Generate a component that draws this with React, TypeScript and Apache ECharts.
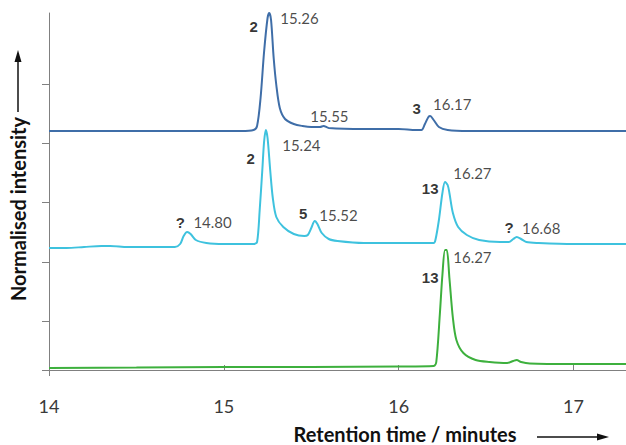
import React, { useEffect, useRef } from "react";
import * as echarts from "echarts";

// Retention time axis (minutes)
const xTicks = [14, 15, 16, 17];
// Normalised intensity axis tick positions (arbitrary units)
const yTickValues = [0, 49, 108, 168, 227, 286];

// Trace 1 (dark blue) — [retention time, intensity]
const topTrace: [number, number][] = [
  [14.0, 239], [14.3, 239], [14.6, 239], [14.9, 239], [15.1, 239], [15.17, 240],
  [15.19, 244], [15.21, 272], [15.23, 318], [15.25, 352], [15.26, 357], [15.27, 350],
  [15.285, 312], [15.3, 285], [15.32, 262], [15.35, 251], [15.4, 246], [15.45, 244],
  [15.5, 243], [15.55, 243], [15.57, 244], [15.6, 242], [15.8, 241], [16.0, 241],
  [16.1, 240], [16.13, 240], [16.15, 246], [16.17, 253], [16.18, 254], [16.2, 250],
  [16.23, 243], [16.28, 240], [16.4, 239], [16.7, 239], [17.0, 239], [17.3, 239],
];

// Trace 2 (cyan)
const middleTrace: [number, number][] = [
  [14.0, 122], [14.1, 122], [14.2, 123], [14.3, 124], [14.35, 124], [14.45, 123],
  [14.6, 123], [14.72, 123], [14.75, 126], [14.77, 134], [14.79, 138], [14.81, 136],
  [14.84, 130], [14.9, 127], [15.0, 126], [15.17, 126], [15.19, 128], [15.205, 160],
  [15.22, 200], [15.23, 228], [15.24, 240], [15.25, 232], [15.265, 200], [15.28, 172],
  [15.3, 153], [15.34, 143], [15.4, 136], [15.46, 134], [15.48, 135], [15.5, 142],
  [15.52, 149], [15.535, 146], [15.56, 137], [15.6, 131], [15.65, 129], [15.8, 127],
  [16.0, 127], [16.2, 127], [16.21, 130], [16.23, 150], [16.25, 177], [16.265, 188],
  [16.28, 185], [16.29, 177], [16.31, 157], [16.34, 143], [16.39, 135], [16.46, 130],
  [16.58, 128], [16.63, 128], [16.655, 131], [16.675, 133], [16.7, 131], [16.73, 128],
  [16.8, 127], [17.0, 126], [17.3, 126],
];

// Trace 3 (green)
const bottomTrace: [number, number][] = [
  [14.0, 2], [14.5, 2.5], [15.0, 3], [15.5, 3], [16.0, 3.5], [16.2, 4],
  [16.215, 8], [16.235, 55], [16.25, 95], [16.265, 120], [16.275, 120], [16.29, 92],
  [16.31, 52], [16.33, 30], [16.37, 17], [16.44, 10], [16.52, 8], [16.62, 7],
  [16.655, 9], [16.675, 10], [16.7, 8], [16.75, 6.5], [17.0, 6], [17.3, 6],
];

// Peak retention-time annotations and their anchor (data coords, left edge)
const peakTimeLabels = ["15.26", "15.55", "16.17", "15.24", "14.80", "15.52", "16.27", "16.68", "16.27"];
const peakTimeAnchors: [number, number][] = [
  [15.32, 352], [15.491, 254], [16.194, 266], [15.331, 225], [14.823, 148],
  [15.543, 155], [16.309, 197], [16.703, 142], [16.309, 113],
];

// Compound identifiers and their anchor (data coords, centre)
const compoundLabels = ["2", "3", "2", "?", "5", "13", "?", "13"];
const compoundAnchors: [number, number][] = [
  [15.171, 344], [16.103, 262], [15.154, 212], [14.751, 148], [15.454, 157],
  [16.18, 182], [16.631, 143], [16.18, 93],
];

const traceColors = ["#3f6ea8", "#3ec2de", "#3db03d"];

export default function App() {
  const ref = useRef<HTMLDivElement>(null);

  useEffect(() => {
    if (!ref.current) return;
    const chart = echarts.init(ref.current, undefined, { renderer: "svg" });
    const axisGrey = "#808080";
    const traces = [topTrace, middleTrace, bottomTrace];

    const option: any = {
      animation: false,
      grid: { left: 49, right: 0, top: 13, bottom: 75 },
      xAxis: [
        {
          type: "value",
          min: 14,
          max: 17.3,
          interval: 1,
          axisLine: { lineStyle: { color: axisGrey, width: 1 } },
          axisTick: { inside: true, length: 5, lineStyle: { color: axisGrey }, customValues: xTicks },
          axisLabel: {
            customValues: xTicks,
            margin: 27,
            color: "#3a3a3a",
            fontSize: 18,
            fontFamily: "Lato",
          },
          splitLine: { show: false },
        },
        {
          type: "value",
          min: 14,
          max: 17.3,
          position: "bottom",
          axisLine: { show: false },
          axisTick: { show: true, inside: false, length: 6, lineStyle: { color: axisGrey }, customValues: [14] },
          axisLabel: { show: false },
          splitLine: { show: false },
        },
      ],
      yAxis: {
        type: "value",
        min: 0,
        max: 357,
        axisLine: { show: true, lineStyle: { color: axisGrey, width: 1 } },
        axisTick: { show: true, inside: false, length: 7, lineStyle: { color: axisGrey }, customValues: yTickValues },
        axisLabel: { show: false },
        splitLine: { show: false },
      },
      series: [
        ...traces.map((d, i) => ({
          type: "line",
          data: d,
          xAxisIndex: 0,
          showSymbol: false,
          smooth: 0.3,
          lineStyle: { color: traceColors[i], width: 2 },
          silent: true,
        })),
        {
          type: "scatter",
          xAxisIndex: 0,
          symbolSize: 1,
          itemStyle: { color: "rgba(0,0,0,0)" },
          silent: true,
          data: peakTimeAnchors.map((c, i) => ({ value: c, name: peakTimeLabels[i] })),
          label: {
            show: true,
            position: "right",
            distance: 0,
            formatter: "{b}",
            color: "#1a1a1a",
            fontSize: 15,
            fontFamily: "Lato",
          },
        },
        {
          type: "scatter",
          xAxisIndex: 0,
          symbolSize: 1,
          itemStyle: { color: "rgba(0,0,0,0)" },
          silent: true,
          data: compoundAnchors.map((c, i) => ({ value: c, name: compoundLabels[i] })),
          label: {
            show: true,
            position: "inside",
            formatter: "{b}",
            color: "#000",
            fontSize: 15,
            fontWeight: "bold",
            fontFamily: "Liberation Sans",
          },
        },
      ],
      graphic: [
        {
          type: "text",
          x: 18,
          y: 209,
          rotation: Math.PI / 2,
          style: {
            text: "Normalised intensity",
            align: "center",
            verticalAlign: "middle",
            fontFamily: "Lato",
            fontWeight: "bold",
            fontSize: 20,
            fill: "#111",
          },
        },
        { type: "line", shape: { x1: 18, y1: 112, x2: 18, y2: 60 }, style: { stroke: "#111", lineWidth: 1.5 } },
        { type: "polygon", shape: { points: [[18, 50], [14.5, 62], [21.5, 62]] }, style: { fill: "#111" } },
        {
          type: "text",
          x: 405,
          y: 434,
          style: {
            text: "Retention time / minutes",
            align: "center",
            verticalAlign: "middle",
            fontFamily: "Lato",
            fontWeight: "bold",
            fontSize: 20,
            fill: "#111",
          },
        },
        { type: "line", shape: { x1: 537, y1: 437, x2: 598, y2: 437 }, style: { stroke: "#111", lineWidth: 1.5 } },
        { type: "polygon", shape: { points: [[609, 437], [597, 433.5], [597, 440.5]] }, style: { fill: "#111" } },
      ],
    };

    chart.setOption(option);
    return () => chart.dispose();
  }, []);

  return (
    <div
      ref={ref}
      style={{ position: "absolute", left: 0, top: 0, width: 626, height: 445, background: "#fff" }}
    />
  );
}
